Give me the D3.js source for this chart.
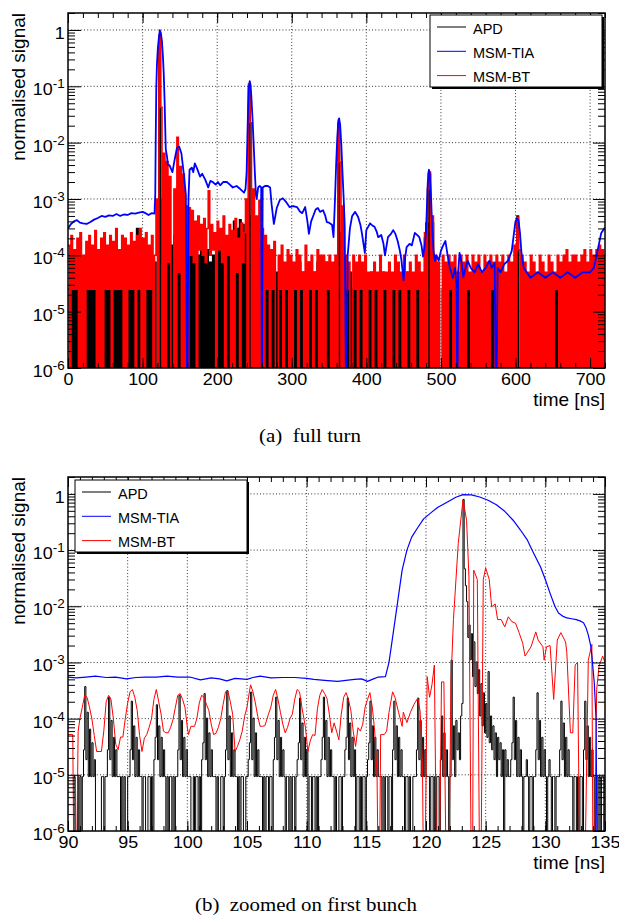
<!DOCTYPE html>
<html><head><meta charset="utf-8">
<script src="https://cdnjs.cloudflare.com/ajax/libs/d3/7.8.5/d3.min.js"></script>
<style>
body{margin:0;background:#fff;}
svg{display:block;}
</style></head><body>
<svg id="c" width="619" height="917"></svg>
<script>
// ================= DATA =================
const seriesNames = ["APD", "MSM-TIA", "MSM-BT"];
const seriesColors = ["#000000", "#0000ff", "#ff0000"];
const yTickExp = [-6, -5, -4, -3, -2, -1, 0];
const fullTicks = [0, 100, 200, 300, 400, 500, 600, 700];
const zoomTicks = [90, 95, 100, 105, 110, 115, 120, 125, 130, 135];
const captionA = "(a)\u00a0 full turn";
const captionB = "(b)\u00a0 zoomed on first bunch";

// ---- panel (a): full turn, 2 ns bins starting at 0 ns, values in counts of fullUnit
const fullBinStart = 0, fullBinWidth = 2, fullUnit = 2.5e-5;
const apdFullCounts = [
 1,0,1,0,1,0,1,0,1,0, 1,0,1,0,1,0,1,0,1,0, 1,0,1,0,1,0,1,0,1,0, 1,0,1,0,1,0,1,0,1,0,
 1,0,2,0,1,0,12,0,2,0, 2,0,3,0,2,0,2,0,3,0, 0,30000,0,40,0,8,0,10,0,6, 0,9,0,8,0,10,0,6,0,8,
 0,5,0,4,0,5,0,4,0,5, 0,4,0,5,0,3,0,4,0,3, 0,5,0,6,0,4,0,5,0,4, 0,16,0,12,0,17,0,14,0,10,
 0,4000,0,20,0,6,0,4,0,3, 0,3,0,2,0,2,0,3,0,2, 0,2,0,3,0,2,0,2,0,3, 0,2,0,2,0,3,0,2,0,2,
 0,3,0,2,0,2,0,3,0,2, 0,2,0,3,0,2,0,2,0,3, 0,800,0,10,0,2,0,1,0,2, 0,1,0,1,0,2,0,1,0,1,
 0,1,0,2,0,1,0,1,0,1, 0,2,0,1,0,1,0,1,0,2, 0,1,0,1,0,1,0,2,0,1, 0,1,0,1,0,1,0,1,0,8,
 15,0,110,0,15,0,1,0,1,0, 0,1,0,1,0,1,0,1,0,1, 0,1,0,1,0,1,0,1,0,1, 0,1,0,1,0,1,0,1,0,1,
 0,1,0,1,0,1,0,1,0,1, 0,1,0,1,0,1,0,1,0,2, 0,20,0,0,1,0,1,0,1,0, 1,0,1,0,1,0,1,0,1,0,
 1,0,1,0,1,0,1,0,1,0, 1,0,1,0,1,0,1,0,1,0, 1,0,1,0,1,0,1,0,1,0, 1,0,1,0,1,0,1,0,1,0,
 0];
const btFullCounts = [
 6,0,9,1,5,1,8,0,10,0, 4,0,7,1,9,1,6,1,11,0, 5,0,8,0,10,1,6,1,9,0, 7,1,12,1,5,1,9,0,8,0,
 6,1,10,1,7,0,9,1,12,0, 8,0,10,1,6,1,9,0,4,40, 0,32000,1700,0,260,0,185,3,100,0, 0,60,0,500,2,150,0,110,0,30,
 0,28,4,25,3,16,0,20,5,14, 4,18,3,12,56,4,14,5,10,0, 16,5,12,3,20,0,9,4,14,0, 11,0,18,2,8,0,15,3,10,40,
 0,4400,900,0,60,0,20,0,38,0, 12,0,9,1,6,0,5,1,7,0, 0,4,1,6,0,3,1,5,0,4, 0,3,1,5,0,4,1,2,0,6,
 0,3,1,4,0,2,1,5,0,4, 0,4,0,3,1,4,0,3,0,4, 0,900,180,0,30,0,4,1,3,0, 0,4,1,3,0,4,1,3,0,4,
 0,2,1,2,0,3,1,2,0,4, 0,2,1,2,0,3,0,2,1,4, 0,3,1,2,0,4,0,2,1,3, 0,2,0,4,1,3,0,2,0,10,
 0,60,120,0,20,0,4,0,3,0, 0,4,0,3,0,4,1,3,0,4, 0,2,0,4,0,3,0,4,1,2, 0,4,0,3,0,4,0,2,0,4,
 0,3,0,4,1,3,0,4,0,3, 0,4,0,2,0,4,0,3,0,6, 0,19,5,0,4,0,3,0,2,0, 4,0,3,0,2,0,4,0,3,0,
 2,0,4,0,3,0,2,1,4,0, 3,0,4,0,5,0,3,0,4,0, 4,0,3,0,4,0,5,0,3,0, 5,0,4,0,5,0,6,0,5,0,
 4];
// MSM-TIA, full turn: [time ns, normalised signal]
const tiaFull = [
 [0,3.0e-4],[4,3.6e-4],[8,4.0e-4],[12,4.2e-4],[16,3.8e-4],[20,3.7e-4],[25,3.6e-4],[30,3.9e-4],[35,4.3e-4],[40,4.6e-4],
 [45,5.0e-4],[50,4.8e-4],[55,5.1e-4],[60,5.0e-4],[65,5.4e-4],[70,5.0e-4],[75,5.3e-4],[80,5.2e-4],[85,5.6e-4],[90,5.5e-4],
 [95,5.7e-4],[100,5.9e-4],[104,5.6e-4],[108,5.2e-4],[112,5.6e-4],[116,5.5e-4],[117,1.2e-3],[117.6,1.1e-2],[118.4,0.1],[119.3,0.25],
 [120.4,0.46],[121.8,0.72],[123.1,0.99],[124.5,0.88],[125.9,0.64],[127.3,0.34],[128.5,0.15],[129.6,0.05],[130.4,0.017],[131.1,7.6e-3],
 [132.6,5.8e-3],[134,4e-3],[136,4e-3],[140,3e-3],[143,5e-3],[146,8e-3],[149,8.5e-3],[152,6.5e-3],[155,3e-3],[158,1.2e-3],
 [160,0],[161.5,1e-3],[163,3.3e-3],[166,3.6e-3],[168,3.0e-3],[170,4.3e-3],[173,3.5e-3],[177,2.5e-3],[180,2.8e-3],[184,2.2e-3],
 [188,1.6e-3],[191,2.1e-3],[194,2.0e-3],[198,1.8e-3],[201,2.0e-3],[204,1.75e-3],[208,2.0e-3],[213,2.0e-3],[217,1.8e-3],[221,1.6e-3],
 [226,1.7e-3],[231,1.5e-3],[236,1.3e-3],[238,1.5e-3],[239.5,3e-3],[240.5,0.012],[241.5,0.045],[242.5,0.095],[243.6,0.124],[244.8,0.105],
 [246,0.06],[247.5,0.025],[249,9e-3],[250.5,3e-3],[252,1.2e-3],[253,1.0e-3],[255,1.6e-3],[257,1.7e-3],[259,1.6e-3],[260,0],
 [261,1.6e-3],[264,1.7e-3],[268,1.7e-3],[271,1.6e-3],[273,8e-4],[276,3.6e-4],[280,7e-4],[284,9.6e-4],[288,1.03e-3],[292,9e-4],
 [297,7.2e-4],[302,7.5e-4],[307,7.2e-4],[311,6e-4],[314,5.6e-4],[318,7.2e-4],[321,4e-4],[323,2.4e-4],[326,4e-4],[329,5.1e-4],
 [332,6.5e-4],[335,6.9e-4],[338,5.9e-4],[342,6.3e-4],[345,5e-4],[347,3.9e-4],[350,3.8e-4],[354,3.5e-4],[356,2.1e-4],[358,1e-3],
 [359.5,4e-3],[361,0.012],[362.5,0.025],[363.5,0.027],[365,0.02],[366.5,9e-3],[368,3e-3],[369.5,1.1e-3],[371,3.5e-4],[373,0],
 [375,1e-4],[378,3e-4],[381,5e-4],[385,5.9e-4],[389,4.8e-4],[392,3.5e-4],[394,2.5e-4],[398,1.1e-4],[400,2.8e-4],[405,3.7e-4],
 [408,3.4e-4],[411,3.2e-4],[414,2.6e-4],[416,2.1e-4],[420,2.3e-4],[423,1.6e-4],[425,1.0e-4],[429,2.1e-4],[433,2.4e-4],[436,2.8e-4],
 [439,2.4e-4],[442,1.8e-4],[445,1.2e-4],[447,8.3e-5],[450,3.6e-5],[452,9e-5],[454,1.4e-4],[458,1.6e-4],[461,1.5e-4],[465,2.5e-4],
 [468,2.3e-4],[471,2.1e-4],[474,1.5e-4],[476,9.5e-5],[478,1.4e-4],[480,2.5e-4],[481,6e-4],[482,1.5e-3],[483,2.8e-3],[484,3.3e-3],
 [485,2.8e-3],[486.5,1.3e-3],[488,4e-4],[490,1.2e-4],[492,8e-5],[494,1.0e-4],[497,8e-5],[500,1.2e-4],[502,1.4e-4],[506,1.8e-4],
 [509,1.0e-4],[512,6e-5],[516,4e-5],[519,6e-5],[521,3e-5],[522,0],[523,5e-5],[525,1.1e-4],[528,7e-5],[530,4.1e-5],
 [533,6e-5],[536,8e-5],[540,6e-5],[545,5e-5],[550,7e-5],[555,5e-5],[560,6e-5],[565,8e-5],[568,6e-5],[572,7.3e-5],
 [574,0],[576,6e-5],[580,5e-5],[585,7e-5],[590,8e-5],[595,1.2e-4],[598,2.5e-4],[600,4e-4],[602,4.5e-4],[604,4.2e-4],
 [606,2.5e-4],[608,1.1e-4],[611,6e-5],[615,5e-5],[620,4e-5],[630,5e-5],[640,4e-5],[650,5e-5],[660,4e-5],[670,5e-5],
 [680,4e-5],[690,5e-5],[700,5e-5],[705,6e-5],[708,9e-5],[711,1.4e-4],[715,2.5e-4],[719,3e-4],[720,3.1e-4]];

// ---- panel (b): zoomed on first bunch
const zoomBinStart = 90, zoomBinWidth = 0.1, zoomApdUnit = 9.3e-6;
const apdZoomCounts = [
 0,0,0,0,0,1,0,0,1,0, 1,0,1,3,40,2,14,1,7,1, 4,1,2,0,0,0,0,0,1,1, 0,1,1,3,26,2,10,1,5,1,
 3,1,1,1,0,1,0,1,0,0, 1,1,3,22,2,8,1,5,1,3, 1,1,0,1,1,0,0,1,1,0, 1,0,2,5,19,2,8,1,5,1,
 3,1,0,1,0,1,1,0,1,0, 1,1,3,28,2,10,1,5,1,3, 1,1,1,0,0,1,0,1,1,0, 1,0,2,4,30,2,11,1,6,1,
 3,1,1,1,0,1,0,0,1,1, 0,1,3,34,2,12,1,6,1,3, 1,1,0,1,0,1,1,0,0,1, 1,2,4,32,2,11,1,6,1,3,
 1,1,1,0,1,0,1,1,0,1, 1,0,2,5,26,2,10,1,5,1, 3,1,0,1,1,0,1,0,1,1, 0,1,2,4,25,2,9,1,5,1,
 3,0,1,1,0,1,1,0,1,0, 1,1,2,5,26,2,10,1,5,1, 3,1,1,0,1,0,0,1,1,0, 1,1,3,5,25,2,9,1,5,1,
 3,0,1,1,0,1,0,1,1,0, 1,2,4,22,2,8,1,5,1,3, 1,1,1,0,1,0,1,1,0,1, 1,0,3,22,2,8,1,5,1,3,
 1,1,0,1,1,0,1,0,0,1, 1,1,3,25,2,10,1,5,1,3, 1,1,1,0,1,1,0,1,0,1, 1,0,2,12,1,6,1,3,1,0,
 1,118,2,8,1,10,3,6,2,12, 20,86000,5000,2500,1300,300,500,120,350,60, 250,40,110,30,80,12,45,8,31,6, 20,5,74,4,12,3,8,2,6,1,
 5,2,4,1,3,0,3,1,2,1, 1,2,4,26,2,10,1,5,1,3, 1,0,1,1,2,1,0,1,1,0, 1,1,3,31,2,10,1,5,1,3,
 1,0,1,2,1,0,1,1,0,1, 1,1,3,22,2,9,1,5,1,3, 1,1,1,0,1,1,0,1,0,1, 1,0,3,22,2,8,1,5,1,3,
 1,0,1,1,0,1,0,1,1,0, 1];
const tiaZoom = [
 [90,5.5e-4],[90.7,5.3e-4],[91.5,5.5e-4],[92.3,5.7e-4],[93.2,5.4e-4],[94.0,5.5e-4],[94.9,5.1e-4],[95.7,5.4e-4],[96.5,5.5e-4],[97.4,5.5e-4],
 [98.3,5.7e-4],[99.2,5.5e-4],[100.2,5.5e-4],[101.1,4.9e-4],[102.0,5.3e-4],[102.7,5.1e-4],[103.3,4.7e-4],[104.0,5.2e-4],[105.0,5.0e-4],[105.5,5.4e-4],
 [106.1,5.7e-4],[107.0,5.3e-4],[108.0,5.4e-4],[109.0,5.4e-4],[110.0,5.2e-4],[110.6,5.0e-4],[111.5,4.8e-4],[112.6,4.6e-4],[113.3,4.8e-4],[114.0,5.0e-4],
 [114.6,5.1e-4],[115.1,4.6e-4],[115.6,5.1e-4],[116.0,5.5e-4],[116.6,5.6e-4],[116.9,1.0e-3],[117.2,2.8e-3],[117.6,1.1e-2],[118.0,4.4e-2],[118.4,0.1],
 [118.8,0.17],[119.3,0.25],[119.8,0.36],[120.4,0.46],[121.0,0.58],[121.8,0.72],[122.5,0.87],[123.1,0.97],[123.8,0.96],[124.5,0.88],
 [125.2,0.77],[125.9,0.64],[126.6,0.49],[127.3,0.34],[127.9,0.23],[128.5,0.15],[129.0,0.09],[129.6,0.05],[130.0,0.03],[130.4,0.017],
 [130.8,0.010],[131.1,7.6e-3],[131.5,6.6e-3],[131.8,6.2e-3],[132.2,6.0e-3],[132.6,5.8e-3],[132.9,5.5e-3],[133.2,5.1e-3],[133.4,4.2e-3],[133.6,3.1e-3],
 [133.8,2.0e-3],[133.9,1.3e-3],[134.1,4.4e-4],[134.25,1e-4],[134.35,0],[135,0]];
const btZoom = [
 [90.0,5.2e-5],[90.4,5.2e-5],[90.5,0],[90.7,0],[90.85,6e-5],[91.0,1.0e-4],[91.2,1.6e-4],[91.4,2.6e-4],[91.6,2.4e-4],[91.8,1.6e-4],
 [92.0,1.0e-4],[92.2,5e-5],[92.4,2.6e-5],[92.6,2.6e-5],[92.8,2.6e-5],[93.0,6e-5],[93.2,2e-4],[93.4,2.6e-4],[93.6,2.2e-4],[93.8,1.0e-4],
 [94.0,3.5e-5],[94.2,2.8e-5],[94.4,4.7e-5],[94.6,4.7e-5],[94.8,1.0e-4],[95.0,1.9e-4],[95.2,3.0e-4],[95.4,3.3e-4],[95.6,2.4e-4],[95.8,1.4e-4],
 [96.0,5e-5],[96.2,2.6e-5],[96.4,4.5e-5],[96.6,5.2e-5],[96.8,7e-5],[97.0,1.0e-4],[97.2,2.2e-4],[97.4,3.3e-4],[97.6,2.0e-4],[97.8,1.2e-4],
 [98.0,6e-5],[98.2,5.6e-5],[98.4,5.6e-5],[98.6,7e-5],[98.8,9.6e-5],[99.0,1.6e-4],[99.2,2.6e-4],[99.4,2.8e-4],[99.6,2.2e-4],[99.8,1.6e-4],
 [100.0,7e-5],[100.1,5.2e-5],[100.3,7.3e-5],[100.6,7.3e-5],[100.8,1.0e-4],[101.0,1.9e-4],[101.2,2.6e-4],[101.4,2.4e-4],[101.6,1.8e-4],[101.8,1.4e-4],
 [102.0,8e-5],[102.2,5.2e-5],[102.4,5.5e-5],[102.6,7e-5],[102.8,1.0e-4],[103.0,1.8e-4],[103.2,3.0e-4],[103.4,3.1e-4],[103.6,2.0e-4],[103.8,1.2e-4],
 [104.0,2.6e-5],[104.2,3.2e-5],[104.4,4.2e-5],[104.6,6e-5],[104.8,1.1e-4],[105.0,1.6e-4],[105.2,3.0e-4],[105.3,4.0e-4],[105.5,3.0e-4],[105.7,1.9e-4],
 [105.9,1.1e-4],[106.1,7.3e-5],[106.3,7.3e-5],[106.5,7.5e-5],[106.8,1.2e-4],[107.0,1.6e-4],[107.2,2.6e-4],[107.4,3.3e-4],[107.6,2.2e-4],[107.8,1.3e-4],
 [108.0,8e-5],[108.2,5.6e-5],[108.4,7e-5],[108.6,1.0e-4],[108.8,1.2e-4],[109.0,2.2e-4],[109.2,3.3e-4],[109.4,3.0e-4],[109.6,1.6e-4],[109.9,6.9e-5],
 [110.1,2.6e-5],[110.3,4.0e-5],[110.5,5.2e-5],[110.7,5e-5],[110.9,1.5e-4],[111.1,2.6e-4],[111.3,3.3e-4],[111.5,2.8e-4],[111.7,2.3e-4],[111.9,1.2e-4],
 [112.1,5.6e-5],[112.3,8.4e-5],[112.5,6e-5],[112.7,4.2e-5],[112.9,1.2e-4],[113.1,2.4e-4],[113.3,2.9e-4],[113.5,2.2e-4],[113.7,1.4e-4],[113.9,6e-5],
 [114.1,3.2e-5],[114.3,6.9e-5],[114.5,6e-5],[114.7,8e-5],[114.9,1.6e-4],[115.1,2.2e-4],[115.3,2.9e-4],[115.5,1.6e-4],[115.7,6e-5],[115.9,9.5e-6],
 [116.0,0],[116.1,0],[116.2,5.2e-5],[116.5,5.2e-5],[116.7,6e-5],[116.9,1.3e-4],[117.2,3.0e-4],[117.4,2.4e-4],[117.7,1.3e-4],[118.0,7.3e-5],
 [118.1,1.3e-4],[118.4,8.5e-5],[118.7,1.3e-4],[119.0,1.8e-4],[119.3,2.3e-4],[119.5,1.4e-4],[119.7,1.8e-5],[119.8,0],[119.9,0],[120.1,5.6e-4],
 [120.3,2.4e-4],[120.5,4e-4],[120.7,9e-4],[120.9,0],[121.1,0],[121.3,4.5e-4],[121.5,4.5e-4],[121.7,0],[121.9,0],[122.1,5e-4],
 [122.3,5.8e-3],[122.7,0.13],[123.1,0.78],[123.4,0.34],[123.6,0.033],[123.8,0],[123.9,0],[124.0,0.044],[124.3,0.03],[124.5,0],
 [124.6,0],[124.8,0.03],[125.0,0.048],[125.3,0.03],[125.5,9.8e-3],[125.8,0.011],[126.0,5.8e-3],[126.3,5.8e-3],[126.6,4.3e-3],[126.9,6.5e-3],
 [127.2,5.3e-3],[127.5,5.0e-3],[127.8,3.4e-3],[128.1,2.2e-3],[128.3,1.3e-3],[128.8,1.9e-3],[129.2,3.5e-3],[129.4,2.5e-3],[129.8,1.9e-3],[129.9,1.1e-3],
 [130.1,1.9e-3],[130.4,2.0e-3],[130.7,2.2e-4],[130.9,1.1e-3],[131.0,2.5e-3],[131.3,3.4e-3],[131.7,2.3e-3],[131.8,1.5e-3],[132.1,5.6e-5],[132.3,5.6e-5],
 [132.5,9e-4],[132.7,1e-3],[132.9,0],[133.1,0],[133.3,0],[133.6,1.1e-3],[133.9,2.1e-3],[134.0,0],[134.1,0],[134.3,3.3e-4],
 [134.5,8.5e-4],[134.8,1.3e-3],[135.0,1.0e-3]];

// ================= DRAWING =================
const svg = d3.select("#c");
const SANS = "'Liberation Sans', Arial, Helvetica, sans-serif";
const SERIF = "'Liberation Serif', 'Times New Roman', serif";
const yDomain = [1e-6, 2];
const yMajor = yTickExp.map(e => Math.pow(10, e));
const yMinor = [];
yTickExp.forEach(e => { for (let k = 2; k <= 9; k++) { const v = k * Math.pow(10, e); if (v <= yDomain[1]) yMinor.push(v); } });

function binsToPoints(counts, start, width, unit) {
  const pts = counts.map((c, i) => [start + i * width, c * unit]);
  pts.push([start + counts.length * width, counts[counts.length - 1] * unit]);
  return pts;
}

function drawPanel(cfg) {
  const x = d3.scaleLinear().domain(cfg.xDomain).range([cfg.left, cfg.right]);
  const y = d3.scaleLog().domain(yDomain).range([cfg.bottom, cfg.top]);
  const yv = v => y(v > 0 ? v : 1e-7);
  const clipId = "clip-" + cfg.id;
  svg.append("defs").append("clipPath").attr("id", clipId).append("rect")
    .attr("x", cfg.left).attr("y", cfg.top).attr("width", cfg.right - cfg.left).attr("height", cfg.bottom - cfg.top);

  // grid
  const grid = svg.append("g").attr("stroke", "#000").attr("stroke-width", 0.8).attr("stroke-dasharray", "1,2.2");
  grid.selectAll("line.gx").data(cfg.xMajor.filter(v => v > cfg.xDomain[0] && v < cfg.xDomain[1])).join("line").attr("class", "gx")
    .attr("x1", d => x(d)).attr("x2", d => x(d)).attr("y1", cfg.top).attr("y2", cfg.bottom);
  grid.selectAll("line.gy").data(yMajor.filter(v => v > yDomain[0])).join("line").attr("class", "gy")
    .attr("x1", cfg.left).attr("x2", cfg.right).attr("y1", d => y(d)).attr("y2", d => y(d));

  // data
  const dg = svg.append("g").attr("clip-path", `url(#${clipId})`).attr("fill", "none");
  const step = d3.line().x(d => x(d[0])).y(d => yv(d[1])).curve(d3.curveStepAfter);
  const lin = d3.line().x(d => x(d[0])).y(d => yv(d[1]));
  dg.append("path").attr("d", step(cfg.apd)).attr("stroke", seriesColors[0]).attr("stroke-width", cfg.apdW);
  if (cfg.btStep) dg.append("path").attr("d", step(cfg.bt)).attr("stroke", seriesColors[2]).attr("stroke-width", cfg.btW);
  else dg.append("path").attr("d", lin(cfg.bt)).attr("stroke", seriesColors[2]).attr("stroke-width", cfg.btW);
  dg.append("path").attr("d", lin(cfg.tia)).attr("stroke", seriesColors[1]).attr("stroke-width", cfg.tiaW).attr("stroke-linejoin", "round");

  // axes
  const styleAxis = g => { g.select(".domain").remove(); g.selectAll("line").attr("stroke", "#000").attr("stroke-width", 1); };
  svg.append("g").attr("transform", `translate(0,${cfg.bottom})`)
    .call(d3.axisBottom(x).tickValues(cfg.xMajor).tickSize(-10).tickPadding(6).tickFormat(d3.format("d")))
    .call(styleAxis)
    .call(g => g.selectAll("text").attr("fill", "#000").attr("font-family", SANS).attr("font-size", 16).attr("transform", "scale(1.12,1)"));
  svg.append("g").attr("transform", `translate(0,${cfg.bottom})`)
    .call(d3.axisBottom(x).tickValues(cfg.xMinor).tickSize(-5).tickFormat("")).call(styleAxis);
  svg.append("g").attr("transform", `translate(0,${cfg.top})`)
    .call(d3.axisTop(x).tickValues(cfg.xMajor).tickSize(-10).tickFormat("")).call(styleAxis);
  svg.append("g").attr("transform", `translate(0,${cfg.top})`)
    .call(d3.axisTop(x).tickValues(cfg.xMinor).tickSize(-5).tickFormat("")).call(styleAxis);

  const left = svg.append("g").attr("transform", `translate(${cfg.left},0)`)
    .call(d3.axisLeft(y).tickValues(yMajor).tickSize(-13).tickFormat("")).call(styleAxis);
  left.selectAll(".tick").each(function (d) {
    const e = Math.round(Math.log10(d));
    const t = d3.select(this).append("text").attr("fill", "#000").attr("font-family", SANS).attr("font-size", 16)
      .attr("text-anchor", "end").attr("x", -3).attr("y", 8.5).attr("transform", "scale(1.12,1)");
    if (e === 0) { t.text("1"); }
    else {
      t.append("tspan").text("10");
      t.append("tspan").attr("font-size", 12).attr("dy", -7).text("-" + Math.abs(e));
    }
  });
  svg.append("g").attr("transform", `translate(${cfg.left},0)`)
    .call(d3.axisLeft(y).tickValues(yMinor).tickSize(-7).tickFormat("")).call(styleAxis);
  svg.append("g").attr("transform", `translate(${cfg.right},0)`)
    .call(d3.axisRight(y).tickValues(yMajor).tickSize(-12).tickFormat("")).call(styleAxis);
  svg.append("g").attr("transform", `translate(${cfg.right},0)`)
    .call(d3.axisRight(y).tickValues(yMinor).tickSize(-7).tickFormat("")).call(styleAxis);

  // frame
  svg.append("rect").attr("x", cfg.left).attr("y", cfg.top).attr("width", cfg.right - cfg.left).attr("height", cfg.bottom - cfg.top)
    .attr("fill", "none").attr("stroke", "#000").attr("stroke-width", 1.5);

  // titles
  svg.append("text").attr("x", cfg.right).attr("y", cfg.bottom + 38).attr("text-anchor", "end")
    .attr("font-family", SANS).attr("font-size", 19).attr("fill", "#000").text("time [ns]");
  svg.append("text").attr("transform", `translate(25,${cfg.top}) rotate(-90)`).attr("text-anchor", "end")
    .attr("font-family", SANS).attr("font-size", 19).attr("fill", "#000").text("normalised signal");

  // legend
  const L = cfg.legend;
  const lg = svg.append("g");
  lg.append("rect").attr("x", L.x + 2).attr("y", L.y + 2).attr("width", L.w).attr("height", L.h).attr("fill", "#000");
  lg.append("rect").attr("x", L.x).attr("y", L.y).attr("width", L.w).attr("height", L.h).attr("fill", "#fff").attr("stroke", "#000").attr("stroke-width", 1);
  seriesNames.forEach((name, i) => {
    const yy = L.y + 12 + i * 24.3;
    lg.append("line").attr("x1", L.x + 7).attr("x2", L.x + 36).attr("y1", yy).attr("y2", yy).attr("stroke", seriesColors[i]).attr("stroke-width", 1);
    lg.append("text").attr("x", L.x + 43).attr("y", yy + 6.5).attr("font-family", SANS).attr("font-size", 14.5).attr("fill", "#000").text(name);
  });

  // caption
  svg.append("text").attr("x", cfg.capX).attr("y", cfg.capY).attr("text-anchor", "middle")
    .attr("font-family", SERIF).attr("font-size", 19).attr("fill", "#000")
    .attr("textLength", cfg.capLen).attr("lengthAdjust", "spacingAndGlyphs").text(cfg.caption);
}

drawPanel({
  id: "a", left: 68, right: 605, top: 13, bottom: 368,
  xDomain: [0, 720], xMajor: fullTicks, xMinor: d3.range(0, 721, 20),
  apd: binsToPoints(apdFullCounts, fullBinStart, fullBinWidth, fullUnit), apdW: 1.6,
  bt: binsToPoints(btFullCounts, fullBinStart, fullBinWidth, fullUnit), btW: 1.6, btStep: true,
  tia: tiaFull, tiaW: 1.8,
  legend: { x: 430, y: 15, w: 172, h: 72 },
  caption: captionA, capX: 310, capY: 442, capLen: 102
});
drawPanel({
  id: "b", left: 68, right: 605, top: 477, bottom: 831,
  xDomain: [90, 135], xMajor: zoomTicks, xMinor: d3.range(90, 135.5, 1),
  apd: binsToPoints(apdZoomCounts, zoomBinStart, zoomBinWidth, zoomApdUnit), apdW: 1,
  bt: btZoom, btW: 1, btStep: false,
  tia: tiaZoom, tiaW: 1.2,
  legend: { x: 75, y: 480, w: 172, h: 72 },
  caption: captionB, capX: 306, capY: 911, capLen: 222
});
</script>
</body></html>
